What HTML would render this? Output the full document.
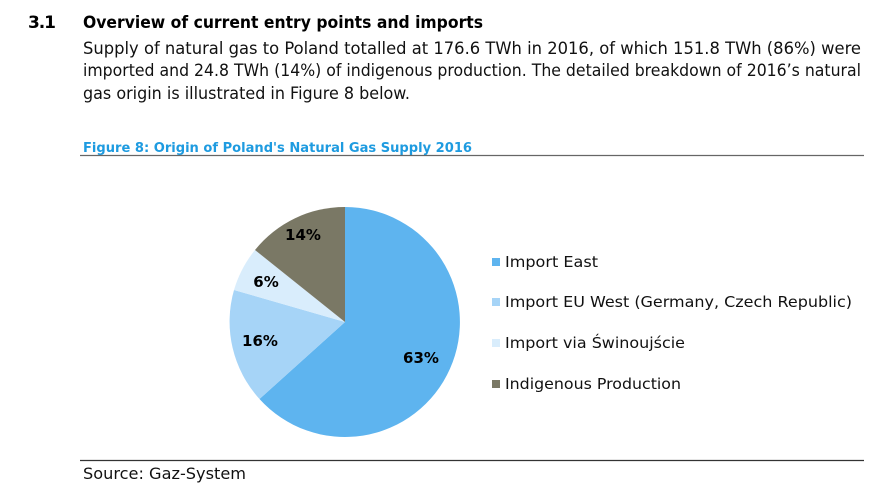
<!DOCTYPE html>
<html><head><meta charset="utf-8"><style>
html,body{margin:0;padding:0;background:#fff;}
svg{display:block;font-family:"DejaVu Sans","Liberation Sans",sans-serif;}
</style></head><body>
<svg width="894" height="497" viewBox="0 0 894 497" xmlns="http://www.w3.org/2000/svg">
<text x="28" y="28" font-size="17" font-weight="bold" fill="#000" textLength="28">3.1</text>
<text x="83" y="28" font-size="17" font-weight="bold" fill="#000" textLength="400" lengthAdjust="spacingAndGlyphs">Overview of current entry points and imports</text>
<text x="83" y="54" font-size="16.5" fill="#111" textLength="778" lengthAdjust="spacingAndGlyphs">Supply of natural gas to Poland totalled at 176.6 TWh in 2016, of which 151.8 TWh (86%) were</text>
<text x="83" y="76" font-size="16.5" fill="#111" textLength="778" lengthAdjust="spacingAndGlyphs">imported and 24.8 TWh (14%) of indigenous production. The detailed breakdown of 2016’s natural</text>
<text x="83" y="99" font-size="16.5" fill="#111" textLength="327" lengthAdjust="spacingAndGlyphs">gas origin is illustrated in Figure 8 below.</text>
<text x="83" y="152" font-size="13" font-weight="bold" fill="#1e9be0" textLength="389" lengthAdjust="spacingAndGlyphs">Figure 8: Origin of Poland's Natural Gas Supply 2016</text>
<line x1="80" y1="155.5" x2="864" y2="155.5" stroke="#666" stroke-width="1.2"/>
<path d="M345,322 L345,207 A115,115 0 1 1 259.5,399 Z" fill="#5eb4ef"/>
<path d="M345,322 L259.5,399 A115,115 0 0 1 234,290 Z" fill="#a6d4f7"/>
<path d="M345,322 L234,290 A115,115 0 0 1 255,250 Z" fill="#d9edfc"/>
<path d="M345,322 L255,250 A115,115 0 0 1 345,207 Z" fill="#7a7865"/>
<g font-size="15" font-weight="bold" fill="#000" text-anchor="middle">
<text x="421" y="363">63%</text>
<text x="260" y="346">16%</text>
<text x="266" y="287">6%</text>
<text x="303" y="240">14%</text>
</g>
<rect x="492" y="258" width="8" height="8" fill="#5eb4ef"/>
<rect x="492" y="298" width="8" height="8" fill="#a6d4f7"/>
<rect x="492" y="339" width="8" height="8" fill="#d9edfc"/>
<rect x="492" y="380" width="8" height="8" fill="#7a7865"/>
<g font-size="15.5" fill="#111">
<text x="505" y="267" textLength="93" lengthAdjust="spacingAndGlyphs">Import East</text>
<text x="505" y="307" textLength="347" lengthAdjust="spacingAndGlyphs">Import EU West (Germany, Czech Republic)</text>
<text x="505" y="348" textLength="180" lengthAdjust="spacingAndGlyphs">Import via Świnoujście</text>
<text x="505" y="389" textLength="176" lengthAdjust="spacingAndGlyphs">Indigenous Production</text>
</g>
<line x1="80" y1="460.5" x2="864" y2="460.5" stroke="#333" stroke-width="1.2"/>
<text x="83" y="479" font-size="16" fill="#111" textLength="163" lengthAdjust="spacingAndGlyphs">Source: Gaz-System</text>
</svg>
</body></html>
